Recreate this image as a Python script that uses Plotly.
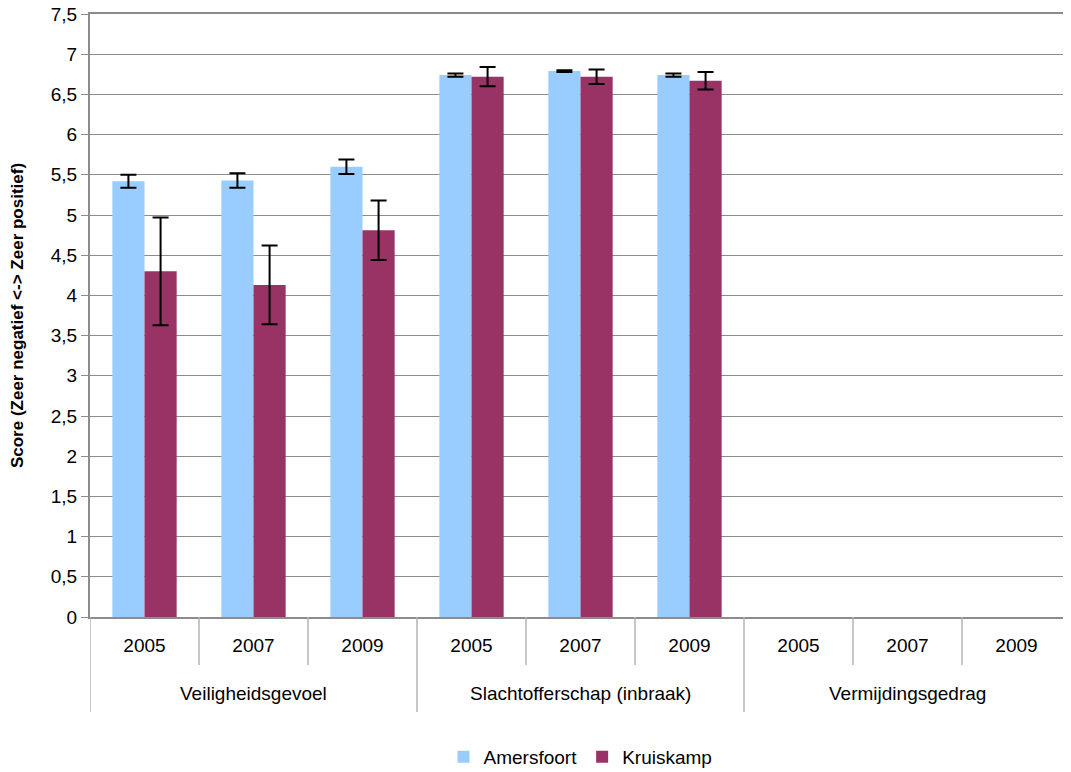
import plotly.graph_objects as go

groups = ["Veiligheidsgevoel", "Slachtofferschap (inbraak)", "Vermijdingsgedrag"]
years = ["2005", "2007", "2009"]

amersfoort = [5.42, 5.43, 5.60, 6.74, 6.79, 6.74, None, None, None]
amersfoort_err = [0.08, 0.09, 0.09, 0.02, 0.01, 0.02, None, None, None]
kruiskamp = [4.30, 4.13, 4.81, 6.72, 6.72, 6.67, None, None, None]
kruiskamp_err = [0.67, 0.49, 0.37, 0.12, 0.09, 0.11, None, None, None]

font_family = "Liberation Sans, Arial, sans-serif"
n_years = len(years)
n_cat = len(groups) * n_years
x_pos = list(range(n_cat))
x_labels = years * len(groups)

fig = go.Figure()
fig.add_trace(go.Bar(
    name="Amersfoort", x=x_pos, y=amersfoort,
    marker=dict(color="#99CCFF", line=dict(width=0)),
    error_y=dict(type="data", array=amersfoort_err, visible=True,
                 color="black", thickness=2, width=8),
))
fig.add_trace(go.Bar(
    name="Kruiskamp", x=x_pos, y=kruiskamp,
    marker=dict(color="#993366", line=dict(width=0)),
    error_y=dict(type="data", array=kruiskamp_err, visible=True,
                 color="black", thickness=2, width=8),
))

# the page body has an 8px default margin; work in window pixels
body = 8
win_w, win_h = 1071, 772
fig_w, fig_h = win_w - body, win_h - body
plot_left, plot_top, plot_bottom = 90, 14, 617
plot_h = plot_bottom - plot_top


def py(pix):
    return (plot_bottom - pix) / plot_h


shapes = []
for i in range(1, n_cat):
    is_group = (i % n_years == 0)
    shapes.append(dict(type="line", xref="x", yref="paper",
                       x0=i - 0.5, x1=i - 0.5, y0=0, y1=py(712 if is_group else 665),
                       line=dict(color="#b4b4b4", width=1.5)))
shapes.append(dict(type="line", xref="x", yref="paper", x0=-0.5, x1=-0.5,
                   y0=0, y1=py(712), line=dict(color="#b4b4b4", width=1.5)))

annotations = []
for g, name in enumerate(groups):
    annotations.append(dict(text=name, xref="x", yref="paper",
                            x=g * n_years + (n_years - 1) / 2, y=py(693),
                            showarrow=False, xanchor="center", yanchor="middle",
                            font=dict(size=19, family=font_family, color="black")))

fig.update_layout(
    width=fig_w, height=fig_h,
    barmode="group", bargap=0.41, bargroupgap=0,
    plot_bgcolor="white", paper_bgcolor="white",
    separators=",.",
    margin=dict(l=plot_left - body, r=0, t=plot_top - body,
                b=win_h - plot_bottom, autoexpand=False),
    font=dict(family=font_family, size=19, color="black"),
    legend=dict(orientation="h", x=0.5, xanchor="center", y=py(757), yanchor="middle",
                font=dict(size=19), traceorder="normal", itemwidth=30),
    showlegend=True,
    shapes=shapes,
    annotations=annotations,
)
fig.update_yaxes(
    range=[0, 7.5], tickvals=[i * 0.5 for i in range(16)], showgrid=True,
    gridcolor="#8c8c8c", gridwidth=1,
    showline=True, linecolor="#8c8c8c", linewidth=2,
    ticks="outside", ticklen=7, tickcolor="#8c8c8c",
    tickfont=dict(size=19), zeroline=False, automargin=False,
    ticklabeloverflow="allow",
    title=dict(text="<b>Score (Zeer negatief <-> Zeer positief)</b>",
               font=dict(size=17), standoff=30),
)
fig.update_xaxes(
    range=[-0.5, n_cat - 0.5], tickvals=x_pos, ticktext=x_labels,
    showline=True, mirror=True, linecolor="#8c8c8c", linewidth=2,
    ticks="", ticklabelstandoff=10, showgrid=False, zeroline=False,
    tickfont=dict(size=19), automargin=False,
)

fig.write_html("out.html")
